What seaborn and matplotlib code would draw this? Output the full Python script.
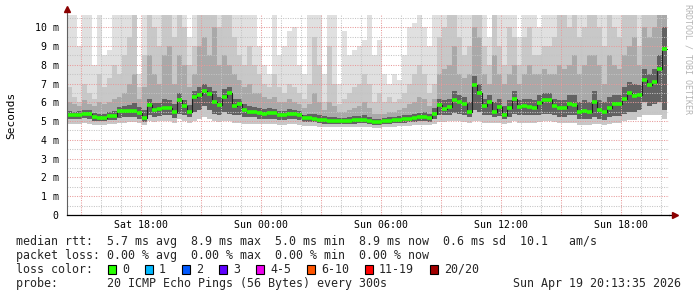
import numpy as np
import pandas as pd
import matplotlib
matplotlib.use("Agg")
import matplotlib.pyplot as plt
import matplotlib.dates as mdates
from matplotlib.ticker import MultipleLocator, FuncFormatter
from matplotlib.patches import Rectangle
import seaborn as sns

sns.set_style("white")
plt.rcParams['font.family'] = ['DejaVu Sans Mono']

# ---------------- data (milliseconds, 15-minute steps) ----------------
start_time = "2026-04-18 14:18"
step_minutes = 15

median_ms = [
    5.31, 5.31, 5.35, 5.40, 5.40, 5.22, 5.17, 5.17, 5.28, 5.28, 5.54, 5.54, 5.54, 5.56, 5.45, 5.18, 5.86, 5.60, 5.62, 5.72, 5.72, 5.50, 6.15, 5.80,
    5.50, 6.30, 6.40, 6.60, 6.45, 6.00, 5.85, 6.30, 6.50, 5.80, 5.90, 5.60, 5.50, 5.50, 5.45, 5.40, 5.45, 5.42, 5.30, 5.30, 5.40, 5.38, 5.35, 5.15,
    5.15, 5.12, 5.05, 5.05, 5.00, 5.00, 5.00, 5.00, 5.03, 5.05, 5.07, 5.07, 5.00, 4.95, 4.95, 5.00, 5.03, 5.06, 5.08, 5.10, 5.10, 5.15, 5.20, 5.22,
    5.15, 5.40, 5.85, 5.65, 5.75, 6.10, 6.00, 5.90, 5.50, 6.90, 6.50, 5.80, 6.00, 5.50, 5.75, 5.35, 5.70, 6.20, 5.75, 5.78, 5.75, 5.70, 5.95, 6.10,
    6.10, 5.80, 5.68, 5.68, 5.90, 5.85, 5.50, 5.55, 5.50, 6.00, 5.60, 5.50, 5.70, 5.90, 5.90, 6.20, 6.50, 6.35, 6.40, 7.20, 6.90, 7.10, 7.80, 8.85,
]

smoke_max_ms = [
    10.7, 10.7, 9.0, 10.7, 10.7, 8.0, 10.7, 8.5, 8.8, 10.7, 10.7, 10.7, 10.7, 10.7, 7.5, 10.7, 10.7, 10.7, 10.7, 10.7, 10.7, 10.7, 10.7, 10.7,
    9.5, 10.7, 10.7, 10.7, 10.7, 10.7, 10.7, 10.7, 10.7, 10.7, 10.7, 10.7, 10.7, 10.7, 9.0, 8.0, 7.5, 10.7, 8.5, 9.0, 9.8, 10.0, 8.0, 7.5,
    10.7, 10.7, 10.7, 7.5, 10.7, 10.7, 7.0, 9.8, 8.5, 8.8, 9.0, 9.3, 10.7, 8.5, 9.3, 7.5, 7.0, 7.5, 7.2, 8.5, 10.0, 10.2, 10.7, 10.0,
    9.0, 10.7, 10.7, 10.7, 10.7, 10.7, 10.7, 10.7, 10.7, 10.7, 10.7, 10.7, 9.5, 10.7, 10.7, 10.7, 10.7, 10.7, 9.5, 10.7, 10.7, 10.7, 10.0, 10.7,
    10.7, 10.7, 10.7, 10.7, 10.7, 10.7, 10.7, 10.7, 10.7, 10.7, 10.7, 10.7, 10.7, 10.7, 10.7, 10.7, 10.7, 10.7, 10.7, 10.7, 10.7, 10.7, 10.7, 10.7,
]

smoke_hi2_ms = [
    6.8, 6.3, 6.0, 7.0, 6.5, 6.2, 7.5, 6.8, 7.3, 8.0, 7.5, 8.5, 9.5, 10.7, 6.8, 8.5, 10.7, 10.0, 9.0, 10.7, 10.7, 9.5, 10.7, 10.0,
    8.0, 9.0, 10.7, 10.7, 10.7, 10.7, 10.0, 10.7, 10.7, 9.5, 8.5, 8.0, 9.0, 8.0, 7.5, 7.0, 6.8, 7.5, 6.8, 6.5, 7.0, 6.8, 6.5, 6.2,
    7.0, 9.5, 8.0, 6.0, 9.0, 7.0, 5.9, 6.2, 6.5, 6.8, 7.0, 7.5, 7.0, 6.0, 6.5, 6.0, 6.3, 6.0, 6.2, 6.5, 7.0, 7.5, 8.0, 7.5,
    6.5, 7.0, 9.5, 10.0, 10.7, 10.7, 9.5, 8.5, 9.0, 10.7, 10.7, 9.0, 8.0, 10.7, 9.0, 8.0, 10.0, 9.5, 8.0, 9.5, 10.0, 8.5, 8.5, 9.0,
    9.0, 9.5, 10.7, 10.7, 10.0, 10.7, 9.5, 10.0, 10.7, 10.7, 10.0, 9.0, 10.7, 10.0, 9.5, 10.7, 10.7, 10.7, 9.0, 10.7, 10.7, 10.7, 10.7, 10.7,
]

smoke_hi3_ms = [
    6.0, 5.9, 5.8, 6.1, 5.9, 5.8, 6.0, 5.9, 6.0, 6.2, 6.3, 6.5, 7.0, 7.5, 6.2, 6.8, 8.5, 7.5, 7.0, 8.5, 9.0, 7.0, 8.5, 8.0,
    6.8, 7.5, 9.0, 9.5, 8.5, 10.0, 8.0, 8.5, 8.0, 7.5, 7.2, 6.8, 7.0, 6.5, 6.5, 6.3, 6.2, 6.3, 6.0, 6.0, 6.2, 6.0, 5.9, 5.7,
    5.9, 6.5, 6.0, 5.6, 6.0, 5.8, 5.5, 5.5, 5.6, 5.7, 5.8, 6.0, 5.7, 5.4, 5.4, 5.4, 5.5, 5.5, 5.6, 5.7, 5.9, 6.0, 6.3, 6.2,
    5.8, 6.2, 7.5, 7.8, 8.0, 9.0, 7.5, 7.3, 7.5, 10.0, 9.5, 7.5, 7.0, 8.5, 7.5, 7.0, 7.5, 8.0, 7.0, 7.5, 8.0, 7.5, 7.5, 7.8,
    7.5, 7.5, 8.0, 7.8, 8.0, 8.5, 7.5, 8.0, 8.5, 8.5, 8.0, 7.0, 8.5, 8.0, 7.8, 8.5, 9.0, 9.5, 8.0, 10.0, 9.5, 10.0, 10.7, 10.7,
]

smoke_hi4_ms = [
    5.55, 5.5, 5.55, 5.6, 5.6, 5.45, 5.4, 5.4, 5.5, 5.55, 5.75, 5.8, 5.85, 5.95, 5.75, 5.6, 6.2, 5.95, 5.95, 6.2, 6.1, 5.9, 6.5, 6.15,
    5.85, 6.6, 6.8, 7.0, 6.8, 6.6, 6.3, 6.7, 6.8, 6.2, 6.2, 5.9, 5.8, 5.75, 5.7, 5.65, 5.7, 5.65, 5.55, 5.55, 5.65, 5.6, 5.55, 5.35,
    5.4, 5.4, 5.3, 5.25, 5.2, 5.2, 5.15, 5.15, 5.2, 5.25, 5.25, 5.3, 5.2, 5.1, 5.1, 5.15, 5.2, 5.2, 5.25, 5.3, 5.3, 5.4, 5.45, 5.5,
    5.4, 5.7, 6.2, 6.1, 6.2, 6.6, 6.4, 6.3, 6.0, 7.4, 7.0, 6.2, 6.4, 6.0, 6.2, 5.8, 6.1, 6.6, 6.1, 6.2, 6.2, 6.1, 6.4, 6.5,
    6.5, 6.2, 6.1, 6.1, 6.4, 6.4, 6.0, 6.1, 6.0, 6.6, 6.1, 6.0, 6.3, 6.4, 6.4, 6.8, 7.1, 7.0, 6.9, 7.8, 7.5, 7.8, 8.5, 10.0,
]

smoke_lodark_ms = [
    5.1, 5.1, 5.1, 5.15, 5.1, 5.0, 5.0, 5.0, 5.05, 5.05, 5.15, 5.2, 5.2, 5.2, 5.1, 4.95, 5.3, 5.2, 5.25, 5.3, 5.3, 5.15, 5.4, 5.3,
    5.2, 5.5, 5.6, 5.8, 5.6, 5.4, 5.3, 5.5, 5.4, 5.3, 5.3, 5.2, 5.2, 5.2, 5.1, 5.1, 5.1, 5.1, 5.05, 5.05, 5.1, 5.1, 5.05, 4.95,
    4.95, 4.95, 4.9, 4.85, 4.85, 4.85, 4.85, 4.85, 4.85, 4.85, 4.9, 4.9, 4.85, 4.8, 4.8, 4.85, 4.85, 4.9, 4.9, 4.9, 4.95, 4.95, 5.0, 5.0,
    4.95, 5.1, 5.3, 5.3, 5.35, 5.45, 5.4, 5.35, 5.2, 5.6, 5.5, 5.3, 5.3, 5.2, 5.25, 5.1, 5.2, 5.4, 5.3, 5.3, 5.3, 5.3, 5.35, 5.4,
    5.4, 5.3, 5.2, 5.2, 5.3, 5.3, 5.1, 5.1, 5.1, 5.2, 5.1, 5.05, 5.2, 5.25, 5.25, 5.4, 5.5, 5.5, 5.6, 6.0, 5.8, 5.9, 6.0, 5.6,
]

smoke_min_ms = [
    4.85, 4.85, 4.85, 4.9, 4.85, 4.8, 4.8, 4.8, 4.85, 4.85, 4.9, 4.9, 4.95, 4.95, 4.9, 4.8, 5.0, 4.95, 5.0, 5.0, 5.0, 4.9, 5.1, 5.0,
    4.9, 5.0, 5.1, 5.2, 5.1, 5.0, 4.95, 5.0, 5.0, 4.9, 4.9, 4.85, 4.85, 4.85, 4.85, 4.85, 4.85, 4.85, 4.8, 4.8, 4.85, 4.85, 4.8, 4.75,
    4.75, 4.75, 4.7, 4.7, 4.7, 4.7, 4.7, 4.7, 4.7, 4.7, 4.7, 4.7, 4.7, 4.65, 4.65, 4.7, 4.7, 4.7, 4.75, 4.75, 4.75, 4.8, 4.8, 4.8,
    4.8, 4.85, 4.95, 4.95, 5.0, 5.0, 5.0, 4.95, 4.9, 5.0, 5.0, 4.9, 4.9, 4.9, 4.9, 4.85, 4.9, 5.0, 4.9, 4.9, 4.9, 4.9, 4.95, 5.0,
    5.0, 4.95, 4.9, 4.9, 4.9, 4.9, 4.8, 4.8, 4.8, 4.85, 4.85, 4.8, 4.85, 4.9, 4.9, 5.0, 5.05, 5.05, 5.2, 5.3, 5.3, 5.3, 5.3, 5.1,
]

y_tick_values = [0, 1, 2, 3, 4, 5, 6, 7, 8, 9, 10]
y_tick_labels = ["0", "1 m", "2 m", "3 m", "4 m", "5 m", "6 m", "7 m", "8 m", "9 m", "10 m"]

stats_line1 = "median rtt:  5.7 ms avg  8.9 ms max  5.0 ms min  8.9 ms now  0.6 ms sd  10.1   am/s"
stats_line2 = "packet loss: 0.00 % avg  0.00 % max  0.00 % min  0.00 % now"
loss_labels = ["0", "1", "2", "3", "4-5", "6-10", "11-19", "20/20"]
loss_colors = ["#26ff00", "#00b8ff", "#0059ff", "#5e00ff", "#ee00ee", "#ff5500", "#ff0000", "#a10000"]
probe_text = "probe:       20 ICMP Echo Pings (56 Bytes) every 300s"
stamp_text = "Sun Apr 19 20:13:35 2026"

# ---------------- figure ----------------
W, H = 697, 297
fig = plt.figure(figsize=(W / 100, H / 100), dpi=100)
fig.patch.set_facecolor("white")
ax = fig.add_axes([67 / W, 82 / H, 602 / W, 200 / H])
ax.set_facecolor("white")

times = pd.date_range(start_time, periods=len(median_ms), freq=f"{step_minutes}min")
step = pd.Timedelta(minutes=step_minutes)
edges = times.append(pd.DatetimeIndex([times[-1] + step]))


def ext(a):
    a = np.asarray(a, dtype=float)
    return np.append(a, a[-1])


smoke_layers = [
    (smoke_min_ms, smoke_max_ms, "#e0e0e0"),
    (smoke_min_ms, smoke_hi2_ms, "#c8c8c8"),
    (smoke_lodark_ms, smoke_hi3_ms, "#a9a9a9"),
    (smoke_lodark_ms, smoke_hi4_ms, "#626262"),
]
for lo, hi, col in smoke_layers:
    ax.fill_between(edges, ext(lo), ext(hi), step="post", color=col, lw=0, zorder=1)

# thin dark step line + green per-step segments
sns.lineplot(x=edges, y=ext(median_ms), drawstyle="steps-post", color="#202020",
             lw=0.8, estimator=None, ax=ax, zorder=4)
ax.hlines(median_ms, times, times + step, colors=loss_colors[0], lw=2.6, zorder=5)

t0 = pd.Timestamp(start_time)
ax.set_xlim(t0, t0 + pd.Timedelta(hours=30.1))
ax.set_ylim(0, 10.65)

# grid
ax.xaxis.set_major_locator(mdates.HourLocator(byhour=range(0, 24, 3)))
ax.xaxis.set_minor_locator(mdates.HourLocator())


def xfmt(v, pos):
    d = mdates.num2date(v)
    return d.strftime("%a %H:%M") if d.hour % 6 == 0 else ""


ax.xaxis.set_major_formatter(FuncFormatter(xfmt))
ax.set_yticks(y_tick_values)
ax.set_yticklabels(y_tick_labels)
ax.yaxis.set_minor_locator(MultipleLocator(0.5))

ax.set_axisbelow(False)
ax.grid(which="major", color="#e89a9a", linestyle=(0, (1, 1.3)), lw=0.75)
ax.grid(which="minor", color="#c4c4c4", linestyle=(0, (1, 1.3)), lw=0.75)

for s in ["top", "right"]:
    ax.spines[s].set_visible(False)
ax.spines["left"].set_color("#606060")
ax.spines["left"].set_linewidth(0.8)
ax.spines["bottom"].set_color("#000000")
ax.spines["bottom"].set_linewidth(0.9)
for sp in ax.spines.values():
    sp.set_zorder(6)

ax.tick_params(axis="x", which="major", length=2, width=0.8, direction="out",
               labelsize=7.1, pad=1.5, color="#000000", labelcolor="#000000")
ax.tick_params(axis="x", which="minor", length=0)
ax.tick_params(axis="y", which="major", length=2, width=0.8, direction="out",
               labelsize=7.1, pad=4, color="#606060", labelcolor="#000000")
ax.tick_params(axis="y", which="minor", length=0)
ax.set_xlabel("")
ax.set_ylabel("")

# axis extensions and arrows
ax.plot([0, 0], [1, 1 + 4 / 200], transform=ax.transAxes, color="#606060", lw=0.8, clip_on=False, zorder=6)
ax.plot([1, 1 + 3 / 602], [0, 0], transform=ax.transAxes, color="#000000", lw=0.9, clip_on=False, zorder=6)
ax.plot([0], [1 + 6 / 200], marker="^", ms=4, color="#8b0000", transform=ax.transAxes, clip_on=False, zorder=7)
ax.plot([1 + 6 / 602], [0], marker=">", ms=4, color="#8b0000", transform=ax.transAxes, clip_on=False, zorder=7)

# y label and watermark
fig.text(11 / W, 1 - 115 / H, "Seconds", rotation=90, ha="center", va="center", fontsize=8, color="#000000")
fig.text(688 / W, 1 - 4 / H, "RRDTOOL / TOBI OETIKER", rotation=270, ha="center", va="top",
         fontsize=6.0, color="#b4b4b4")

# legend text block
FS = 8.4
fig.text(16 / W, 1 - 241.5 / H, stats_line1, ha="left", va="center", fontsize=FS)
fig.text(16 / W, 1 - 255.5 / H, stats_line2, ha="left", va="center", fontsize=FS)
fig.text(16 / W, 1 - 269.5 / H, "loss color:", ha="left", va="center", fontsize=FS)
fig.text(16 / W, 1 - 283.5 / H, probe_text, ha="left", va="center", fontsize=FS)
fig.text(681 / W, 1 - 283.5 / H, stamp_text, ha="right", va="center", fontsize=FS)

char_w = 7.0
bx = 108.0
for lab, col in zip(loss_labels, loss_colors):
    fig.add_artist(Rectangle((bx / W, 1 - 274 / H), 8 / W, 9 / H, transform=fig.transFigure,
                             facecolor=col, edgecolor="#000000", lw=0.8))
    lx = bx + 14
    fig.text(lx / W, 1 - 269.5 / H, lab, ha="left", va="center", fontsize=FS)
    bx = lx + char_w * len(lab) + 16

fig.savefig("out.png", dpi=100, facecolor="white")
